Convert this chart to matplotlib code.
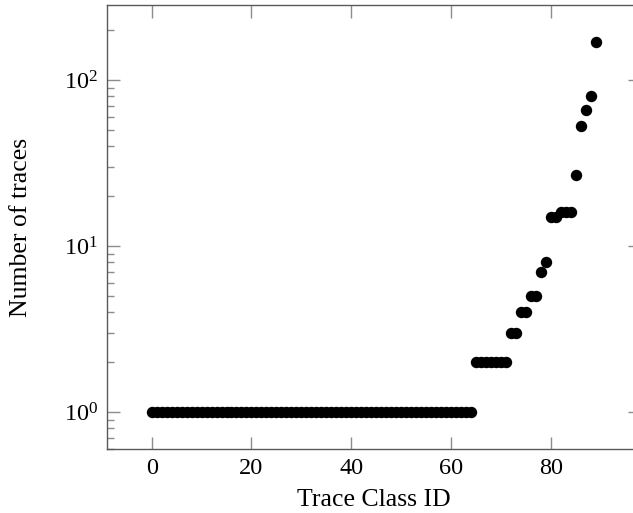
import numpy as np
import matplotlib
matplotlib.use('Agg')
import matplotlib.pyplot as plt
from matplotlib.ticker import LogLocator, NullFormatter

# data
class_ids = list(range(90))
n_traces = [1, 1, 1, 1, 1, 1, 1, 1, 1, 1, 1, 1, 1, 1, 1, 1, 1, 1, 1, 1,
            1, 1, 1, 1, 1, 1, 1, 1, 1, 1, 1, 1, 1, 1, 1, 1, 1, 1, 1, 1,
            1, 1, 1, 1, 1, 1, 1, 1, 1, 1, 1, 1, 1, 1, 1, 1, 1, 1, 1, 1,
            1, 1, 1, 1, 1,
            2, 2, 2, 2, 2, 2, 2,
            3, 3, 4, 4, 5, 5, 7, 8,
            15, 15, 16, 16, 16,
            27, 53, 66, 81, 171]
x_ticks = [0, 20, 40, 60, 80]

plt.rcParams['font.family'] = ['Liberation Serif', 'DejaVu Serif']
plt.rcParams['mathtext.fontset'] = 'stix'
plt.rcParams['font.size'] = 17.5

fig = plt.figure(figsize=(6.33, 5.13), dpi=100)
# axis box runs a little past the right edge, as in the original crop
ax = fig.add_axes([107.3 / 633, 63.7 / 513, (640 - 107.3) / 633, (449.3 - 4.7) / 513])

ax.plot(class_ids, n_traces, 'o', color='black', ms=7.2, ls='none')
ax.set_yscale('log')

# pgfplots style limits: data range enlarged by 10% on each side
xr = max(class_ids) - min(class_ids)
ax.set_xlim(min(class_ids) - 0.1 * xr, max(class_ids) + 0.1 * xr)
lo, hi = np.log10(min(n_traces)), np.log10(max(n_traces))
ax.set_ylim(10 ** (lo - 0.1 * (hi - lo)), 10 ** (hi + 0.1 * (hi - lo)))

ax.set_xticks(x_ticks)
ax.yaxis.set_major_locator(LogLocator(base=10))
ax.yaxis.set_minor_locator(LogLocator(base=10, subs=np.arange(2, 10)))
ax.yaxis.set_minor_formatter(NullFormatter())

ax.tick_params(which='both', direction='in', top=True, right=True, color='0.55', width=1.0)
ax.tick_params(which='major', length=9, pad=6.5)
ax.tick_params(which='minor', length=5)
ax.tick_params(axis='x', which='minor', bottom=False, top=False)
for s in ax.spines.values():
    s.set_color('0.35')
    s.set_linewidth(1.0)

ax.set_xlabel('Trace Class ID', fontsize=18.5, labelpad=7)
ax.set_ylabel('Number of traces', fontsize=18.5, labelpad=23)

fig.savefig('out.png', dpi=100)
